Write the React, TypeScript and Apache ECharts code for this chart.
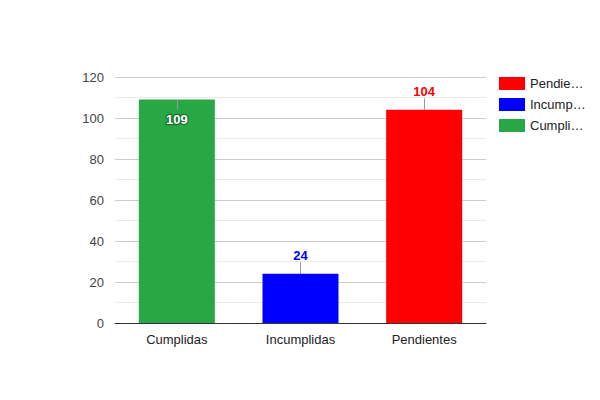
import React, { useEffect, useRef } from "react";
import * as echarts from "echarts";

const categories = ["Cumplidas", "Incumplidas", "Pendientes"];
const seriesNames = ["Cumplidas", "Incumplidas", "Pendientes"];
const values = [109, 24, 104];
const colors = ["#28a745", "#0000ff", "#ff0000"];
const legendOrder = ["Pendientes", "Incumplidas", "Cumplidas"];
const yTicks = { min: 0, max: 120, interval: 20 };

export default function App() {
  const ref = useRef<HTMLDivElement>(null);
  useEffect(() => {
    document.body.style.margin = "0";
    const chart = echarts.init(ref.current!, null, { renderer: "svg" });
    const series = seriesNames.map((name, i) => {
      const inside = i === 0;
      const stemEnd = inside ? values[i] - 5 : values[i] + 5.6;
      return {
        name,
        type: "bar",
        stack: "all",
        barWidth: 76,
        itemStyle: { color: colors[i] },
        data: categories.map((c, j) => (j === i ? values[i] : "-")),
        label: {
          show: true,
          position: inside ? "insideTop" : "top",
          distance: inside ? 13 : 12,
          fontFamily: "Arial",
          fontSize: 13,
          fontWeight: "bold",
          color: inside ? "#ffffff" : colors[i],
          textBorderColor: inside ? "#1a6e30" : "transparent",
          textBorderWidth: inside ? 2.5 : 0,
        },
        markLine: {
          silent: true,
          symbol: "none",
          animation: false,
          label: { show: false },
          lineStyle: { color: "#999999", width: 1, type: "solid" },
          data: [
            [
              { coord: [categories[i], values[i]] },
              { coord: [categories[i], stemEnd] },
            ],
          ],
        },
      };
    });
    chart.setOption({
      animation: false,
      textStyle: { fontFamily: "Arial" },
      grid: { left: 115, right: 114, top: 77, bottom: 77 },
      legend: {
        orient: "vertical",
        left: 499,
        top: 77,
        padding: 0,
        itemWidth: 26,
        itemHeight: 13,
        itemGap: 8,
        icon: "rect",
        data: legendOrder,
        textStyle: {
          fontFamily: "Arial",
          fontSize: 13,
          color: "#222222",
          width: 57,
          overflow: "truncate",
          ellipsis: "…",
        },
      },
      xAxis: {
        type: "category",
        data: categories,
        axisTick: { show: false },
        axisLine: { lineStyle: { color: "#333333", width: 1 } },
        axisLabel: { color: "#222222", fontSize: 13, margin: 10, fontFamily: "Arial" },
      },
      yAxis: {
        type: "value",
        min: yTicks.min,
        max: yTicks.max,
        interval: yTicks.interval,
        axisLine: { show: false },
        axisTick: { show: false },
        axisLabel: { color: "#444444", fontSize: 13, margin: 11, fontFamily: "Arial" },
        splitLine: { lineStyle: { color: "#cccccc", width: 1 } },
        minorTick: { show: false, splitNumber: 2 },
        minorSplitLine: { show: true, lineStyle: { color: "#ebebeb", width: 1 } },
      },
      series,
    });
    return () => chart.dispose();
  }, []);
  return <div ref={ref} style={{ width: 600, height: 400 }} />;
}
